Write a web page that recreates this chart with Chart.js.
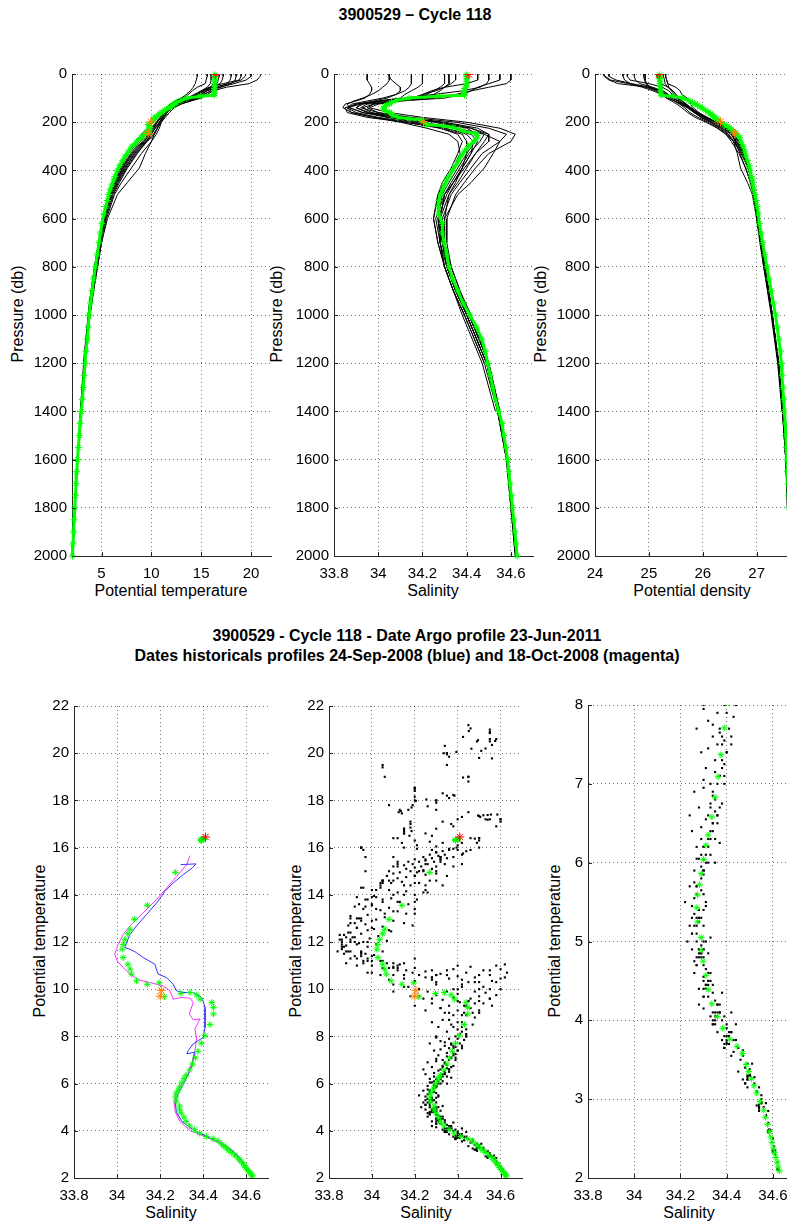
<!DOCTYPE html>
<html>
<head>
<meta charset="utf-8">
<script src="https://cdn.jsdelivr.net/npm/chart.js@4.4.1/dist/chart.umd.min.js"></script>
<style>
html, body { margin: 0; padding: 0; background: #fff; overflow: hidden; width: 787px; height: 1222px; }
body { position: relative; font-family: "Liberation Sans", Arial, Helvetica, sans-serif; }
.cv { position: absolute; }
.lbl { position: absolute; white-space: nowrap; font-size: 16px; color: #000; transform: translate(-50%, -50%); }
.rot { transform: translate(-50%, -50%) rotate(-90deg); }
.ttl { font-weight: bold; }
</style>
</head>
<body>
<div class="lbl ttl" style="left:415px;top:15px">3900529 – Cycle 118</div>
<div class="lbl rot" style="left:18px;top:314px">Pressure (db)</div>
<div class="lbl rot" style="left:277px;top:314px">Pressure (db)</div>
<div class="lbl rot" style="left:541px;top:314px">Pressure (db)</div>
<div class="lbl" style="left:171px;top:591px">Potential temperature</div>
<div class="lbl" style="left:433px;top:591px">Salinity</div>
<div class="lbl" style="left:692px;top:591px">Potential density</div>
<div class="lbl ttl" style="left:407px;top:636px">3900529 - Cycle 118 - Date Argo profile 23-Jun-2011</div>
<div class="lbl ttl" style="left:407px;top:656px">Dates historicals profiles 24-Sep-2008 (blue) and 18-Oct-2008 (magenta)</div>
<div class="lbl rot" style="left:40px;top:941px">Potential temperature</div>
<div class="lbl rot" style="left:296px;top:941px">Potential temperature</div>
<div class="lbl rot" style="left:555px;top:941px">Potential temperature</div>
<div class="lbl" style="left:171px;top:1213px">Salinity</div>
<div class="lbl" style="left:426px;top:1213px">Salinity</div>
<div class="lbl" style="left:689px;top:1213px">Salinity</div>
<script>
// ---- Argo profile (cycle 118) ----
const argoPres = [4,10,20,30,40,50,60,70,80,88, 92,100,110,118,124,130,136,142,150,158,
  165,172,180,186,190,210,216,222,230,238, 246,255,265,282,300,320,340,360,380,400,
  425,440,460,480,500,525,550,580,620,660, 700,750,800,850,900,950,1000,1050,1100,1150,
  1200,1250,1300,1350,1400,1450,1500,1550,1600,1650, 1700,1750,1800,1850,1900,1950,2000];
const argoTheta = [16.36,16.36,16.35,16.35,16.34,16.34,16.33,16.33,16.32,16.30, 14.95,13.55,12.96,12.54,12.35,12.11,11.9,11.69,11.34,11.06,
  10.85,10.64,10.35,10.21,10.27,9.68,9.82,9.86,9.76,9.58, 9.44,9.23,8.95,8.5,8.03,7.71,7.37,7.09,6.83,6.58,
  6.35,6.22,6.04,5.86,5.72,5.59,5.43,5.25,5.05,4.89, 4.75,4.57,4.39,4.21,4.05,3.9,3.76,3.67,3.58,3.44,
  3.35,3.26,3.17,3.08,2.97,2.86,2.77,2.68,2.59,2.52, 2.45,2.38,2.32,2.26,2.2,2.14,2.09];
const argoSal = [34.40,34.40,34.40,34.40,34.40,34.40,34.39,34.39,34.39,34.39, 34.27,34.14,34.08,34.06,34.05,34.036,34.028,34.023,34.028,34.05,
  34.06,34.067,34.09,34.14,34.195,34.219,34.296,34.338,34.369,34.385, 34.439,34.447,34.447,34.431,34.408,34.39,34.375,34.363,34.35,34.336,
  34.32,34.31,34.30,34.29,34.283,34.274,34.271,34.274,34.29,34.29, 34.298,34.31,34.32,34.336,34.36,34.383,34.414,34.445,34.468,34.484,
  34.495,34.507,34.518,34.53,34.545,34.56,34.568,34.577,34.585,34.591, 34.596,34.602,34.607,34.613,34.618,34.623,34.628];
const argoDens = [25.20,25.20,25.20,25.21,25.21,25.21,25.21,25.22,25.22,25.23, 25.45,25.62,25.74,25.81,25.86,25.90,25.95,25.99,26.05,26.10,
  26.14,26.18,26.22,26.25,26.28,26.40,26.45,26.49,26.53,26.57, 26.61,26.65,26.69,26.71,26.75,26.78,26.80,26.83,26.86,26.88,
  26.90,26.92,26.93,26.95,26.97,26.99,27.01,27.03,27.05,27.08, 27.11,27.15,27.19,27.23,27.27,27.31,27.35,27.38,27.41,27.44,
  27.455,27.47,27.485,27.50,27.515,27.53,27.54,27.55,27.56,27.57, 27.58,27.59,27.60,27.61,27.615,27.62,27.63];

// surface point (red) and flagged points (orange)
const redPres = [2], redTheta = [16.45], redSal = [34.41], redDens = [25.19];
const flagPres = [198, 246], flagTheta = [9.95, 9.7], flagSal = [34.205, 34.2], flagDens = [26.33, 26.59];

// ---- historical profiles ----
const histPres = [0,10,25,40,55,70,85,100,112,125,140,160,180,200,225,250,280,330,390,450,500,600,700,800,900,1000,1200,1400,1600,1800,2000];
const histTheta = [
  [21.0,20.9,20.6,19.8,17.5,16.2,15.6,15.0,14.0,12.9,12.0,11.4,11.1,10.8,10.6,10.3,9.6,8.5,7.5,6.7,6.1,5.3,4.9,4.5,4.1,3.8,3.3,2.95],
  [18.0,18.0,17.9,17.6,16.5,15.5,15.0,14.4,13.4,12.4,11.8,11.3,10.9,10.5,10.0,9.5,8.9,7.9,7.0,6.3,5.8,5.2,4.8,4.4,4.0,3.7,3.25,2.9,2.6,2.35,2.12],
  [16.8,16.8,16.7,16.6,16.2,15.4,14.6,13.9,13.0,12.2,11.7,11.3,11.0,10.6,10.2,9.8,9.3,8.2,7.2,6.5,5.9,5.2,4.8,4.4,4.0,3.7,3.2],
  [15.6,15.6,15.5,15.4,14.6,14.1,13.7,13.2,12.5,12.0,11.6,11.2,10.9,10.6,10.3,10.0,9.4,8.3,7.4,6.6,6.0,5.4,4.9,4.5,4.1,3.8,3.3,2.95,2.62,2.35,2.1],
  [17.2,17.2,17.1,16.9,16.0,15.3,14.8,14.2,13.3,12.6,12.0,11.6,11.3,11.0,10.8,10.5,10.0,9.0,8.0,7.0,6.3,5.5,5.0,4.6,4.2,3.85,3.3],
  [20.0,20.0,19.5,18.3,16.8,15.9,15.3,14.8,13.8,12.8,12.1,11.6,11.2,10.8,10.4,10.0,9.5,8.6,7.6,6.8,6.2,5.4,4.9,4.5,4.1,3.75,3.25,2.92],
  [16.0,16.0,16.0,15.9,15.6,15.0,14.3,13.6,12.8,12.1,11.6,11.1,10.7,10.2,9.7,9.2,8.7,7.7,6.9,6.2,5.7,5.1,4.7,4.3,3.95,3.65,3.2,2.88,2.58,2.33,2.1],
  [18.5,18.5,18.4,18.0,17.0,16.0,15.2,14.6,13.6,12.6,12.0,11.5,11.2,10.9,10.6,10.3,10.0,9.4,8.8,7.6,6.6,5.6,5.0,4.6,4.2,3.85,3.3,2.95],
  [14.6,14.6,14.5,14.4,14.2,13.9,13.5,13.0,12.4,11.9,11.5,11.0,10.6,10.1,9.6,9.0,8.4,7.5,6.7,6.1,5.7,5.1,4.7,4.3,3.95,3.65],
  [19.0,19.0,18.8,17.2,15.8,15.0,14.5,14.0,13.2,12.5,11.9,11.5,11.1,10.8,10.4,9.9,9.2,8.1,7.1,6.4,5.9,5.3,4.85,4.45,4.05,3.72,3.25,2.9,2.6,2.34,2.11],
  [16.4,16.4,16.3,16.2,15.9,15.2,14.4,13.7,12.9,12.2,11.6,11.2,10.9,10.5,10.1,9.7,9.1,8.0,7.1,6.4,5.9,5.3,4.85,4.45,4.05,3.75,3.28,2.93],
  [19.5,19.4,19.0,17.8,16.4,15.6,15.0,14.5,13.8,13.0,12.3,11.8,11.4,11.0,10.6,10.2,9.5,8.4,7.3,6.5,6.0,5.3,4.85,4.45,4.1,3.8,3.3]
];
const histSal = [
  [34.55,34.55,34.55,34.5,34.45,34.42,34.38,34.3,34.1,33.95,33.92,34.0,34.15,34.35,34.5,34.58,34.55,34.47,34.42,34.37,34.33,34.29,34.3,34.32,34.36,34.41,34.5,34.55],
  [34.3,34.3,34.3,34.3,34.28,34.25,34.22,34.15,34.02,33.9,33.87,33.93,34.08,34.25,34.4,34.45,34.44,34.4,34.36,34.32,34.29,34.27,34.29,34.31,34.35,34.4,34.49,34.54,34.58,34.6,34.62],
  [34.15,34.15,34.15,34.15,34.14,34.12,34.08,34.02,33.95,33.88,33.86,33.9,34.0,34.15,34.3,34.4,34.43,34.42,34.38,34.34,34.3,34.26,34.28,34.3,34.34,34.39,34.48],
  [34.32,34.32,34.32,34.32,34.3,34.26,34.2,34.2,34.08,33.98,33.95,34.0,34.12,34.3,34.45,34.5,34.48,34.44,34.4,34.36,34.32,34.3,34.3,34.33,34.37,34.41,34.5,34.55,34.585,34.61,34.625],
  [34.6,34.6,34.6,34.58,34.5,34.42,34.35,34.25,34.1,34.0,33.96,34.05,34.2,34.4,34.55,34.62,34.6,34.5,34.44,34.39,34.35,34.31,34.31,34.33,34.37,34.42,34.5],
  [34.35,34.35,34.35,34.33,34.3,34.28,34.25,34.2,34.05,33.92,33.86,33.88,33.98,34.12,34.28,34.38,34.4,34.4,34.38,34.35,34.32,34.28,34.28,34.3,34.34,34.38,34.47,34.53],
  [33.95,33.95,33.95,33.96,33.97,33.97,33.96,33.94,33.9,33.85,33.84,33.88,33.98,34.1,34.22,34.32,34.36,34.37,34.34,34.3,34.27,34.25,34.27,34.3,34.34,34.39,34.48,34.54,34.58,34.605,34.625],
  [34.2,34.2,34.2,34.2,34.18,34.15,34.12,34.1,34.0,33.93,33.9,33.95,34.05,34.2,34.35,34.48,34.55,34.52,34.48,34.42,34.36,34.3,34.3,34.32,34.36,34.41,34.5,34.55],
  [34.05,34.05,34.05,34.04,34.02,34.0,33.97,33.93,33.89,33.86,33.87,33.93,34.04,34.17,34.28,34.36,34.38,34.36,34.33,34.29,34.27,34.25,34.27,34.3,34.34,34.39],
  [34.45,34.45,34.45,34.4,34.3,34.24,34.2,34.15,34.06,33.98,33.93,33.97,34.1,34.28,34.42,34.48,34.46,34.41,34.37,34.33,34.3,34.28,34.29,34.31,34.35,34.4,34.49,34.54,34.58,34.6,34.62],
  [34.5,34.5,34.5,34.49,34.46,34.38,34.25,34.12,34.0,33.92,33.9,33.96,34.1,34.28,34.42,34.5,34.5,34.44,34.39,34.34,34.3,34.28,34.29,34.32,34.36,34.4,34.49,34.54],
  [34.05,34.05,34.06,34.08,34.1,34.1,34.08,34.04,33.98,33.9,33.85,33.86,33.95,34.12,34.3,34.42,34.45,34.42,34.38,34.34,34.31,34.27,34.28,34.31,34.35,34.4,34.49]
];
const histDens = [
  [24.15,24.17,24.26,24.43,24.97,25.25,25.36,25.42,25.47,25.58,25.72,25.9,26.06,26.28,26.43,26.54,26.63,26.73,26.84,26.92,26.96,27.02,27.08,27.15,27.22,27.29,27.41,27.48],
  [24.73,24.73,24.75,24.83,25.07,25.27,25.36,25.43,25.53,25.63,25.72,25.86,26.05,26.25,26.45,26.57,26.65,26.77,26.87,26.93,26.96,27.02,27.08,27.15,27.22,27.29,27.4,27.48,27.54,27.57,27.61],
  [24.9,24.9,24.92,24.94,25.03,25.19,25.33,25.43,25.56,25.65,25.73,25.84,25.97,26.15,26.34,26.48,26.58,26.74,26.85,26.92,26.96,27.02,27.07,27.14,27.21,27.28,27.4],
  [25.31,25.31,25.33,25.35,25.5,25.58,25.61,25.71,25.75,25.77,25.82,25.93,26.08,26.27,26.44,26.53,26.61,26.75,26.84,26.92,26.97,27.02,27.08,27.15,27.23,27.29,27.41,27.48,27.54,27.58,27.61],
  [25.15,25.15,25.18,25.22,25.36,25.45,25.5,25.55,25.61,25.67,25.76,25.9,26.07,26.28,26.43,26.54,26.6,26.69,26.79,26.89,26.95,27.02,27.08,27.14,27.22,27.29,27.41],
  [24.26,24.26,24.39,24.68,25.02,25.2,25.32,25.38,25.48,25.57,25.66,25.76,25.91,26.1,26.28,26.43,26.53,26.67,26.8,26.88,26.94,27.0,27.06,27.13,27.2,27.27,27.39,27.47],
  [24.93,24.93,24.93,24.96,25.03,25.16,25.31,25.43,25.56,25.65,25.73,25.85,26.0,26.18,26.36,26.52,26.62,26.78,26.86,26.93,26.96,27.02,27.08,27.15,27.22,27.29,27.4,27.48,27.54,27.58,27.61],
  [24.52,24.52,24.55,24.65,24.88,25.08,25.24,25.34,25.48,25.61,25.71,25.84,25.97,26.14,26.31,26.46,26.57,26.64,26.7,26.83,26.92,27.0,27.07,27.13,27.21,27.28,27.41,27.48],
  [25.31,25.31,25.33,25.35,25.37,25.42,25.47,25.54,25.62,25.7,25.78,25.91,26.07,26.25,26.42,26.58,26.68,26.8,26.88,26.93,26.97,27.02,27.08,27.15,27.22,27.29],
  [24.6,24.6,24.65,25.0,25.25,25.37,25.44,25.51,25.6,25.68,25.75,25.85,26.02,26.22,26.39,26.53,26.62,26.75,26.86,26.92,26.96,27.01,27.08,27.14,27.21,27.29,27.4,27.48,27.54,27.57,27.61],
  [25.27,25.27,25.29,25.3,25.35,25.44,25.51,25.55,25.62,25.68,25.78,25.9,26.06,26.27,26.45,26.58,26.67,26.79,26.88,26.93,26.96,27.01,27.08,27.15,27.22,27.28,27.4,27.48],
  [24.16,24.19,24.29,24.61,24.95,25.13,25.25,25.32,25.42,25.52,25.61,25.72,25.86,26.06,26.27,26.43,26.57,26.71,26.84,26.92,26.96,27.01,27.07,27.14,27.21,27.28,27.4]
];

// other historical samples, theta-S only: [salinity, potential temperature]
const histExtraTS = [
  [34.45,21.19],[34.452,20.94],[34.46,21.05],[34.425,20.69],[34.34,20.31],[34.335,20.0],[34.35,19.95],[34.36,19.85],[34.394,20.05],[34.464,20.19],
  [34.495,20.55],[34.49,20.5],[34.51,20.1],[34.53,20.2],[34.55,20.5],[34.56,20.35],[34.575,20.52],[34.58,20.6],[34.55,20.85],[34.56,19.78],
  [34.425,18.97],[34.38,18.23],[34.385,18.2],[34.2,18.54],[34.2,18.16],[34.205,17.98],[34.254,18.04],[34.26,17.75],[34.19,17.8],[34.185,17.7],
  [34.17,17.6],[34.13,17.6],[34.125,17.5],[34.135,17.55],[34.14,17.45],[34.36,18.1],[34.35,18.2],[34.5,17.34],[34.495,17.36],[34.505,17.3],
  [34.52,17.37],[34.54,17.38],[34.555,17.4],[34.585,17.4],[34.53,17.2],[34.54,17.18],[34.55,17.2],[34.42,17.3],[34.37,17.0],[34.38,16.9],
  [34.33,17.1],[34.18,17.1],[34.18,16.85],[34.185,16.7],
  [34.12,16.4],[34.175,16.5],[34.2,16.3],[34.21,16.1],[34.21,15.95],[34.46,16.4],[34.48,16.38],[34.44,15.85],[34.42,15.7],[34.425,15.75],
  [34.4,16.1],[34.395,16.0],[34.33,16.2],[34.3,16.05],[34.36,15.95],[34.27,16.25],[34.15,16.6],[34.25,16.6],
  [34.1,15.2],[34.12,15.3],[34.15,15.25],[34.17,15.4],[34.19,15.3],[34.2,15.5],[34.22,15.4],[34.24,15.6],[34.25,15.45],[34.27,15.7],
  [34.28,15.55],[34.3,15.8],[34.31,15.65],[34.33,15.85],[34.34,15.7],[34.36,15.9],[34.38,15.95],[34.4,15.9],[34.16,15.1],[34.2,15.15],
  [34.23,15.2],[34.26,15.3],[34.29,15.4],[34.32,15.5],[34.35,15.55],[34.1,14.9],[34.13,14.95],[34.18,15.0],[34.21,14.95],[34.24,15.05],
  [34.28,15.1],[34.3,15.2],[34.34,15.3],[34.07,14.8],[34.12,14.7],[34.16,14.75],[34.2,14.8],[34.25,14.85],[34.3,14.9],[34.05,14.6],
  [34.09,14.5],[34.14,14.55],[34.18,14.4],[34.22,14.5],[34.27,14.6],[34.33,14.4],
  [33.95,14.3],[34.0,14.2],[34.04,14.3],[34.08,14.2],[34.12,14.1],[34.16,14.15],[34.2,14.0],[34.24,14.1],[33.93,13.9],[33.97,13.8],
  [34.01,13.95],[34.05,13.7],[34.09,13.85],[34.13,13.7],[34.17,13.6],[34.21,13.8],[33.92,13.5],[33.96,13.4],[34.0,13.55],[34.04,13.35],
  [34.08,13.45],[34.12,13.3],[34.16,13.2],[34.2,13.4],[33.9,13.1],[33.94,13.0],[33.98,13.15],[34.02,12.95],[34.06,13.05],[34.1,12.9],
  [34.15,12.8],[34.19,12.7],[33.89,12.7],[33.93,12.6],[33.97,12.75],[34.01,12.55],[34.05,12.65],[34.09,12.45],[33.87,12.3],[33.91,12.2],
  [33.95,12.35],[33.99,12.15],[34.03,12.25],[34.07,12.05],[33.86,12.0],[33.88,11.85],[33.9,12.1],[33.94,11.95],[33.98,11.8],[34.02,11.9],
  [33.89,11.6],[33.92,11.4],[33.95,11.55],[33.98,11.3],[34.01,11.45],[34.04,11.2],[34.07,11.1],[34.1,10.95],[34.13,11.05],[34.16,10.8],
  [34.19,10.7],[34.22,10.6],[34.25,10.75],[34.05,10.9],[34.1,10.6],[34.15,10.45],[34.2,10.35],[34.28,10.5],[34.32,10.65],[34.36,10.45],
  [34.4,10.55],[34.44,10.7],[34.48,10.5],[34.52,10.8],[34.55,10.6],[34.58,11.0],[34.6,10.85],[34.62,11.05],[34.63,10.7],[34.6,10.45],
  [34.56,10.35],[34.5,10.3],[34.3,10.3],[34.46,10.95],[34.38,10.85],[33.96,11.1],[34.0,10.7],[34.08,10.4],
  [34.1,9.9],[34.15,10.1],[34.18,9.7],[34.22,10.0],[34.24,9.6],[34.26,9.9],[34.28,9.4],[34.3,9.75],[34.32,9.2],[34.33,9.55],
  [34.35,9.9],[34.36,9.3],[34.38,9.65],[34.4,9.1],[34.41,9.45],[34.43,9.0],[34.44,9.3],[34.46,9.6],[34.47,9.0],[34.42,8.9],
  [34.38,8.9],[34.34,9.0],[34.5,9.5],[34.53,9.85],[34.55,9.6],[34.56,9.3],[34.58,9.75],[34.52,10.1],[34.2,9.3],[34.25,9.1],
  [34.28,8.6],[34.31,8.4],[34.33,8.7],[34.35,8.2],[34.37,8.5],[34.39,8.0],[34.4,8.3],[34.42,8.6],[34.44,8.1],[34.3,8.0],
  [34.32,7.8],[34.34,7.6],[34.36,7.9],[34.38,7.5],[34.41,7.7],[34.29,7.4],[34.31,7.2],[34.33,7.0],[34.35,7.3],[34.37,7.1],
  [34.4,7.4],[34.27,7.7],[34.43,7.85],[34.39,7.25],
  [34.26,6.9],[34.28,6.7],[34.3,6.95],[34.32,6.6],[34.34,6.85],[34.36,6.5],[34.38,6.75],[34.25,6.4],[34.27,6.2],[34.29,6.45],
  [34.31,6.1],[34.33,6.3],[34.35,6.0],[34.26,5.9],[34.28,6.05],[34.3,5.85],[34.24,6.6],[34.37,6.25],
  [34.22,5.5],[34.24,5.7],[34.25,5.3],[34.26,5.55],[34.27,5.1],[34.28,5.4],[34.29,5.65],[34.3,5.2],[34.31,5.45],[34.23,5.0],
  [34.25,4.9],[34.27,4.8],[34.29,4.95],[34.32,4.85],[34.33,5.05],[34.24,5.2],[34.26,4.75],[34.3,4.7],
  [34.26,4.6],[34.28,4.4],[34.3,4.55],[34.32,4.3],[34.34,4.45],[34.36,4.2],[34.38,4.35],[34.3,4.15],[34.33,4.05],[34.35,3.95],
  [34.38,4.0],[34.4,3.9],[34.42,4.1],[34.28,4.2],[34.44,3.95],[34.36,3.85],
  [34.39,3.8],[34.41,3.7],[34.43,3.6],[34.44,3.75],[34.46,3.5],[34.47,3.62],[34.48,3.4],[34.5,3.3],[34.51,3.45],[34.52,3.2],
  [34.53,3.1],[34.55,3.0],[34.56,2.9],[34.57,2.8],[34.58,2.7],[34.59,2.6],[34.6,2.5],[34.605,2.4],[34.61,2.3],[34.62,2.2],
  [34.42,3.55],[34.45,3.35],[34.49,3.15],[34.54,2.85],
  [34.3,7.95],[34.34,7.75],[34.37,7.65],[34.39,7.55],[34.32,7.45],[34.35,7.15],[34.3,7.05],[34.33,6.75],[34.35,6.65],[34.31,6.55],
  [34.29,6.3],[34.3,6.2],[34.27,6.05],[34.29,5.95],[34.26,5.75],[34.27,5.6],[34.25,5.45],[34.26,5.35],[34.28,5.25],[34.27,5.0],
  [34.28,4.9],[34.3,4.8],[34.31,4.65],[34.32,4.5],[34.34,4.35],[34.35,4.25],[34.37,4.1],[34.39,4.05],[34.4,3.95],[34.42,3.85],
  [34.43,3.75],[34.45,3.65],[34.47,3.55],[34.49,3.45],[34.5,3.38],[34.52,3.28],[34.54,3.15],[34.55,3.05],[34.57,2.95],[34.58,2.85]
];

// ---- the two nearest historical profiles (theta-S) ----
const blueSal = [34.295,34.366,34.35,34.307,34.26,34.222,34.19,34.137,34.09,34.06,34.044,34.036,34.06,34.09,34.121,34.175,34.19,34.23,34.26,34.276,34.307,34.353,34.393,34.408,34.408,34.4,34.377,34.353,34.33,34.323,34.36,34.346,34.323,34.31,34.285,34.27,34.275,34.3,34.36,34.43,34.48,34.53,34.565,34.59,34.615,34.625];
const blueTheta = [15.28,15.31,15.15,14.86,14.5,14.15,13.73,13.17,12.68,12.32,11.97,11.76,11.69,11.55,11.34,11.06,10.64,10.49,10.21,9.93,9.86,9.86,9.65,9.23,8.38,7.96,7.82,7.68,7.4,7.26,7.33,6.7,6.27,6.0,5.6,5.2,4.8,4.4,4.0,3.7,3.5,3.2,2.9,2.6,2.3,2.15];
const magentaSal = [34.338,34.323,34.276,34.23,34.183,34.121,34.067,34.028,34.005,33.989,34.0,34.028,34.059,34.106,34.152,34.214,34.245,34.26,34.3,34.338,34.353,34.335,34.353,34.385,34.361,34.369,34.361,34.346,34.323,34.3,34.275,34.265,34.27,34.29,34.34,34.42,34.47,34.525,34.56,34.59,34.612,34.62];
const magentaTheta = [15.66,15.28,14.78,14.29,13.8,13.24,12.75,12.32,11.9,11.48,11.2,10.92,10.64,10.38,10.28,10.14,9.93,9.58,9.65,9.62,9.44,8.95,8.7,8.74,8.32,7.9,7.4,6.84,6.27,6.0,5.6,5.2,4.8,4.4,4.0,3.7,3.5,3.2,2.9,2.6,2.3,2.2];

// ---- tick labels ----
const presTicks = [0,200,400,600,800,1000,1200,1400,1600,1800,2000];
const thetaTicks = [5,10,15,20];
const salTicks = [33.8,34,34.2,34.4,34.6];
const densTicks = [24,25,26,27];
const tsTicks = [2,4,6,8,10,12,14,16,18,20,22];
const tsDeepTicks = [2,3,4,5,6,7,8];

const PAD_L = 70, PAD_T = 12, PAD_R = 16, PAD_B = 40;
const FONT = { family: '"Liberation Sans", Arial, Helvetica, sans-serif', size: 15 };
const GREEN = '#00ff00', RED = '#ff0000', ORANGE = '#ff8000';

function pts(xs, ys) {
  const n = Math.min(xs.length, ys.length), out = [];
  for (let i = 0; i < n; i++) out.push({ x: xs[i], y: ys[i] });
  return out;
}

function axis(min, max, ticks, isY, reverse) {
  return {
    type: 'linear', min: min, max: max, reverse: !!reverse,
    afterBuildTicks: s => { s.ticks = ticks.map(v => ({ value: v })); },
    afterFit: s => { if (isY) s.width = PAD_L; else s.height = PAD_B; },
    grid: { color: 'rgba(0,0,0,0.55)', lineWidth: 1, drawTicks: false },
    border: { color: '#262626', width: 1, dash: [1, 3] },
    ticks: { font: FONT, color: '#000', padding: isY ? 5 : 9, autoSkip: false, maxRotation: 0, callback: v => String(v) }
  };
}

// small inward ticks like the original axes
const innerTicks = {
  id: 'innerTicks',
  afterDraw(chart) {
    const { ctx, chartArea: a, scales } = chart;
    ctx.save();
    ctx.strokeStyle = '#262626';
    ctx.lineWidth = 1;
    ctx.beginPath();
    scales.x.ticks.forEach(t => {
      const px = Math.round(scales.x.getPixelForValue(t.value)) + 0.5;
      ctx.moveTo(px, a.bottom); ctx.lineTo(px, a.bottom - 4);
    });
    scales.y.ticks.forEach(t => {
      const py = Math.round(scales.y.getPixelForValue(t.value)) + 0.5;
      ctx.moveTo(a.left, py); ctx.lineTo(a.left + 4, py);
    });
    ctx.stroke();
    ctx.restore();
  }
};

function panel(box, xs, ys, datasets) {
  const c = document.createElement('canvas');
  c.width = box.r - box.l + PAD_L + PAD_R;
  c.height = box.b - box.t + PAD_T + PAD_B;
  c.className = 'cv';
  c.style.left = (box.l - PAD_L) + 'px';
  c.style.top = (box.t - PAD_T) + 'px';
  document.body.appendChild(c);
  new Chart(c, {
    type: 'scatter',
    data: { datasets: datasets },
    options: {
      responsive: false, animation: false, events: [],
      layout: { padding: { left: 0, top: PAD_T, right: PAD_R, bottom: 0 } },
      plugins: { legend: { display: false }, tooltip: { enabled: false } },
      scales: { x: xs, y: ys }
    },
    plugins: [innerTicks]
  });
}

function star(data, color, r, order) {
  return { data: data, showLine: false, pointStyle: 'star', pointRadius: r, pointBorderColor: color,
           pointBackgroundColor: color, pointBorderWidth: 1, order: order };
}

function profilePanel(box, xmin, xmax, xticks, argoV, histV, redV, flagV) {
  const ds = [];
  ds.push(star(pts(flagV, flagPres), ORANGE, 4.5, 0));
  ds.push(star(pts(redV, redPres), RED, 4.5, 1));
  ds.push(Object.assign(star(pts(argoV, argoPres), GREEN, 3.5, 2),
    { showLine: true, borderColor: GREEN, borderWidth: 3, clip: 4 }));
  histV.forEach(v => ds.push({ data: pts(v, histPres), showLine: true, borderColor: '#000',
    borderWidth: 1, pointRadius: 0, order: 5 }));
  panel(box, axis(xmin, xmax, xticks, false), axis(0, 2000, presTicks, true, true), ds);
}

profilePanel({ l: 72, r: 271, t: 72, b: 556 }, 2.04, 22, thetaTicks, argoTheta, histTheta, redTheta, flagTheta);
// the second flagged salinity sample is hidden under the bundle in the original
profilePanel({ l: 334, r: 533, t: 72, b: 556 }, 33.8, 34.7, salTicks, argoSal, histSal, redSal, flagSal.slice(0, 1));
profilePanel({ l: 595, r: 789, t: 72, b: 556 }, 24, 27.6, densTicks, argoDens, histDens, redDens, flagDens);

// theta-S panels
const argoTS = pts(argoSal, argoTheta);
const histTS = histExtraTS.map(p => ({ x: p[0], y: p[1] }));
histSal.forEach((s, k) => histTS.push(...pts(s, histTheta[k])));

function tsBase() {
  return [
    star(pts(flagSal, flagTheta), ORANGE, 4.5, 0),
    star(pts(redSal, redTheta), RED, 4.5, 1),
    star(argoTS, GREEN, 3.3, 2)
  ];
}

panel({ l: 74, r: 268, t: 704, b: 1178 }, axis(33.8, 34.7, salTicks, false), axis(2, 22, tsTicks, true),
  tsBase().concat([
    { data: pts(blueSal, blueTheta), showLine: true, borderColor: '#3333ff', borderWidth: 1, pointRadius: 0, order: 4 },
    { data: pts(magentaSal, magentaTheta), showLine: true, borderColor: '#ff33ff', borderWidth: 1, pointRadius: 0, order: 5 }
  ]));

const dots = { data: histTS, showLine: false, pointStyle: 'rect', pointRadius: 1.5, pointBorderWidth: 0,
               pointBackgroundColor: '#000', order: 6 };
panel({ l: 329, r: 522, t: 704, b: 1178 }, axis(33.8, 34.7, salTicks, false), axis(2, 22, tsTicks, true),
  tsBase().concat([dots]));
panel({ l: 588, r: 796, t: 703, b: 1178 }, axis(33.8, 34.7, salTicks, false), axis(2, 8, tsDeepTicks, true),
  tsBase().concat([Object.assign({}, dots)]));
</script>
</body>
</html>
